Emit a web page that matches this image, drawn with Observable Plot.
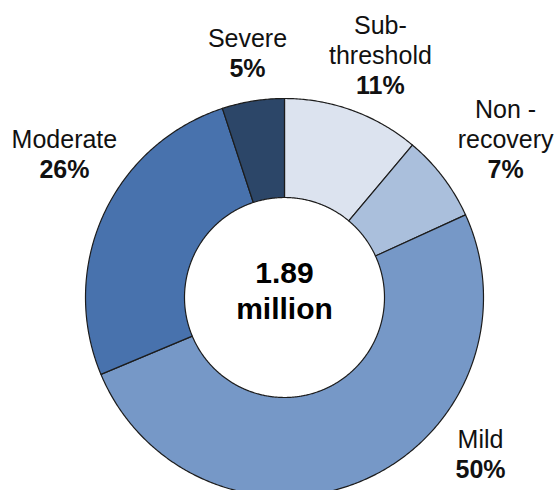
<!DOCTYPE html>
<html><head><meta charset="utf-8">
<script src="https://cdn.jsdelivr.net/npm/d3@7"></script>
<script src="https://cdn.jsdelivr.net/npm/@observablehq/plot@0.6"></script>
<style>html,body{margin:0;padding:0;background:#fff;overflow:hidden}</style>
</head><body><div id="chart"></div>
<script>
// Data
const categories = ["Sub-threshold", "Non-recovery", "Mild", "Moderate", "Severe"];
const labelNames = ["Sub-\nthreshold", "Non -\nrecovery", "Mild", "Moderate", "Severe"];
const shares = [11, 7, 50, 26, 5];
const shareLabels = ["11%", "7%", "50%", "26%", "5%"];
const totalLabel = "1.89\nmillion";

// Styling / layout
const colors = ["#dce3ef", "#aabfdc", "#7698c7", "#4872ad", "#2c4668"];
const innerRatio = 100 / 199;
// label anchor (baseline of the percent line), in units of the outer radius
const labelX = [0.482, 1.111, 0.985, -1.106, -0.186];
const labelY = [1.025, 0.598, -0.905, 0.598, 1.106];

const arcs = d3.pie().sort(null).value(d => d)(shares);
const ring = [];
arcs.forEach((p, i) => {
  const span = p.endAngle - p.startAngle;
  const steps = Math.max(2, Math.ceil(span / (Math.PI / 360)));
  for (let k = 0; k <= steps; k++) {
    const a = p.startAngle + span * k / steps;
    ring.push({cat: categories[i], x: Math.sin(a), y: Math.cos(a)});
  }
  for (let k = steps; k >= 0; k--) {
    const a = p.startAngle + span * k / steps;
    ring.push({cat: categories[i], x: innerRatio * Math.sin(a), y: innerRatio * Math.cos(a)});
  }
});

const labels = categories.map((c, i) => ({
  cat: c, name: labelNames[i], pct: shareLabels[i], x: labelX[i], y: labelY[i]
}));

const chart = Plot.plot({
  width: 557,
  height: 500,
  marginLeft: 85,
  marginRight: 74,
  marginTop: 98,
  marginBottom: 4,
  x: {domain: [-1, 1], axis: null},
  y: {domain: [-1, 1], axis: null},
  color: {domain: categories, range: colors},
  style: {fontFamily: "'Liberation Sans', Arial, sans-serif", background: "#fff"},
  marks: [
    Plot.line(ring, {x: "x", y: "y", z: "cat", fill: "cat", stroke: "#1c1c1c", strokeWidth: 1.2, curve: "linear-closed"}),
    Plot.text(labels, {x: "x", y: "y", text: "name", fontSize: 25, lineHeight: 1.2, lineAnchor: "bottom", dy: -30, fill: "#111", textAnchor: "middle"}),
    Plot.text(labels, {x: "x", y: "y", text: "pct", fontSize: 25, fontWeight: "bold", lineAnchor: "bottom", fill: "#111", textAnchor: "middle"}),
    Plot.text([totalLabel], {x: 0, y: 0, text: d => d, fontSize: 30, fontWeight: "bold", lineHeight: 1.18, lineAnchor: "bottom", dy: 21, fill: "#000", textAnchor: "middle"})
  ]
});
document.getElementById("chart").appendChild(chart);
</script>
</body></html>
